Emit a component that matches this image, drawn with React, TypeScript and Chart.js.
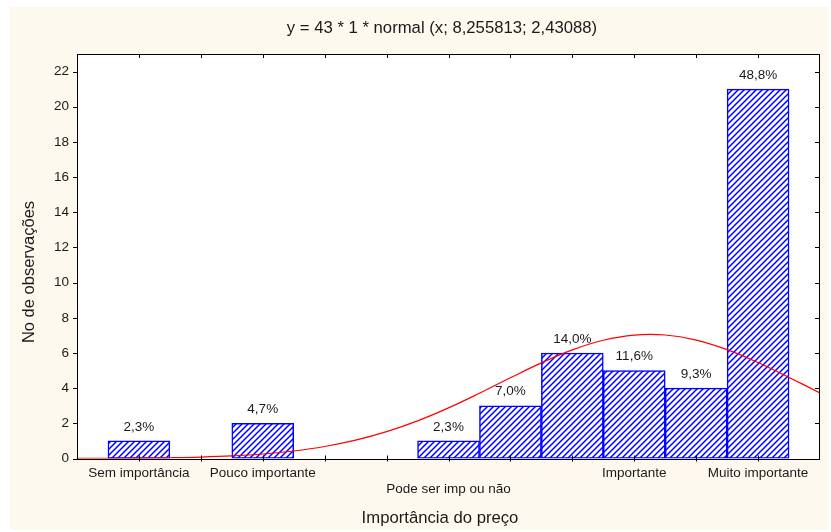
import React, { useEffect, useRef } from 'react';
import { Chart, registerables } from 'chart.js';

Chart.register(...registerables);

// Histogram bins (bin value -> count)
const binValues = [0, 2, 5, 6, 7, 8, 9, 10];
const binCounts = [1, 2, 1, 3, 6, 5, 4, 21];
const binPercents = ['2,3%', '4,7%', '2,3%', '7,0%', '14,0%', '11,6%', '9,3%', '48,8%'];

// Fitted normal curve
const curveX = [-1, -0.5, 0, 0.5, 1, 1.5, 2, 2.5, 3, 3.5, 4, 4.5, 5, 5.5, 6, 6.5, 7, 7.5, 8, 8.5, 9, 9.5, 10, 10.5, 11];
const curveY = [0.005, 0.011, 0.022, 0.044, 0.082, 0.148, 0.257, 0.428, 0.682, 1.041, 1.524, 2.139, 2.878, 3.711, 4.588, 5.437, 6.176, 6.724, 7.018, 7.021, 6.734, 6.19, 5.456, 4.608, 3.732];

// Axis tick labels
const xTickValues = [0, 2, 5, 8, 10];
const xTickLabels = ['Sem importância', 'Pouco importante', 'Pode ser imp ou não', 'Importante', 'Muito importante'];
const xStaggered = [5];

const titleText = 'y = 43 * 1 * normal (x; 8,255813; 2,43088)';
const xTitle = 'Importância do preço';
const yTitle = 'No de observações';

const FONT = '"Liberation Sans", Arial, Helvetica, sans-serif';
const CREAM = '#fdf9ef';
const TEXT = '#1a1a1a';

function makeHatch(): CanvasPattern | string {
  const s = 6;
  const c = document.createElement('canvas');
  c.width = s;
  c.height = s;
  const g = c.getContext('2d');
  if (!g) return '#0000ff';
  g.fillStyle = '#ffffff';
  g.fillRect(0, 0, s, s);
  g.strokeStyle = '#0000ff';
  g.lineWidth = 1.5;
  g.beginPath();
  g.moveTo(-1, s + 1);
  g.lineTo(s + 1, -1);
  g.moveTo(-1, 1);
  g.lineTo(1, -1);
  g.moveTo(s - 1, s + 1);
  g.lineTo(s + 1, s - 1);
  g.stroke();
  const p = g.createPattern(c, 'repeat');
  return p || '#0000ff';
}

const decorPlugin = {
  id: 'decor',
  beforeDraw(chart: any) {
    const { ctx, chartArea: a } = chart;
    ctx.save();
    ctx.fillStyle = '#ffffff';
    ctx.fillRect(0, 0, chart.width, chart.height);
    ctx.fillStyle = CREAM;
    ctx.fillRect(10, 7, 819, 523);
    ctx.fillStyle = '#ffffff';
    ctx.fillRect(a.left, a.top, a.right - a.left, a.bottom - a.top);
    ctx.restore();
  },
  afterDraw(chart: any) {
    const { ctx, chartArea: a, scales } = chart;
    const xs = scales.x;
    const ys = scales.y;
    ctx.save();
    // frame
    ctx.strokeStyle = '#000000';
    ctx.lineWidth = 1;
    ctx.strokeRect(Math.round(a.left) + 0.5, Math.round(a.top) + 0.5, Math.round(a.right - a.left) - 1, Math.round(a.bottom - a.top));
    // ticks
    ctx.beginPath();
    xs.ticks.forEach((t: any) => {
      const px = Math.round(xs.getPixelForValue(t.value)) + 0.5;
      if (t.value <= xs.min || t.value >= xs.max) return;
      ctx.moveTo(px, a.top);
      ctx.lineTo(px, a.top + 4);
      ctx.moveTo(px, a.bottom - 3);
      ctx.lineTo(px, a.bottom + 3);
    });
    ys.ticks.forEach((t: any) => {
      const py = Math.round(ys.getPixelForValue(t.value)) + 0.5;
      ctx.moveTo(a.left - 4, py);
      ctx.lineTo(a.left, py);
      ctx.moveTo(a.right - 5, py);
      ctx.lineTo(a.right - 1, py);
    });
    ctx.stroke();

    // percentage labels above bars
    const meta = chart.getDatasetMeta(1);
    ctx.fillStyle = TEXT;
    ctx.font = '13.5px ' + FONT;
    ctx.textAlign = 'center';
    ctx.textBaseline = 'middle';
    meta.data.forEach((el: any, i: number) => {
      ctx.fillText(binPercents[i], el.x, el.y - 14);
    });

    // titles
    ctx.font = '16.7px ' + FONT;
    ctx.fillText(titleText, 442, 28);
    ctx.fillText(xTitle, 440, 518);
    ctx.translate(29, 272);
    ctx.rotate(-Math.PI / 2);
    ctx.font = '16.5px ' + FONT;
    ctx.fillText(yTitle, 0, 0);
    ctx.restore();
  },
};

export default function App() {
  const ref = useRef<HTMLCanvasElement>(null);

  useEffect(() => {
    if (!ref.current) return;
    const hatch = makeHatch();
    const chart = new Chart(ref.current, {
      type: 'bar',
      data: {
        datasets: [
          {
            type: 'line',
            data: curveX.map((x, i) => ({ x, y: curveY[i] })),
            borderColor: '#ff0000',
            borderWidth: 1.2,
            pointRadius: 0,
            fill: false,
            tension: 0.4,
            order: 0,
          } as any,
          {
            type: 'bar',
            data: binValues.map((x, i) => ({ x, y: binCounts[i] })),
            backgroundColor: hatch as any,
            borderColor: '#0000ff',
            borderWidth: 1.5,
            borderSkipped: false,
            barPercentage: 1,
            categoryPercentage: 1,
            order: 1,
          } as any,
        ],
      },
      options: {
        responsive: false,
        animation: false,
        devicePixelRatio: 1,
        layout: { padding: { top: 54, left: 0, right: 11, bottom: 0 } },
        plugins: {
          legend: { display: false },
          tooltip: { enabled: false },
          title: { display: false },
        },
        scales: {
          x: {
            type: 'linear',
            min: -1,
            max: 11,
            offset: false,
            grid: { display: false, drawTicks: false },
            border: { display: false },
            afterFit: (s: any) => {
              s.height = 73.5;
            },
            ticks: {
              stepSize: 1,
              autoSkip: false,
              maxRotation: 0,
              minRotation: 0,
              padding: 6.5,
              color: TEXT,
              font: { family: FONT, size: 13.5, lineHeight: 1.2 },
              callback: (v: any) => {
                const idx = xTickValues.indexOf(Number(v));
                if (idx < 0) return '';
                const lbl = xTickLabels[idx];
                return xStaggered.includes(Number(v)) ? ['', lbl] : lbl;
              },
            },
          },
          y: {
            type: 'linear',
            min: 0,
            max: 23,
            grid: { display: false, drawTicks: false },
            border: { display: false },
            afterFit: (s: any) => {
              s.width = 77;
            },
            ticks: {
              stepSize: 2,
              includeBounds: false,
              padding: 8,
              color: TEXT,
              font: { family: FONT, size: 13.5 },
            },
          },
        },
      },
      plugins: [decorPlugin],
    } as any);
    return () => chart.destroy();
  }, []);

  return (
    <div style={{ position: 'fixed', left: 0, top: 0, width: 831, height: 532 }}>
      <canvas ref={ref} width={831} height={532} style={{ display: 'block', width: 831, height: 532 }} />
    </div>
  );
}
